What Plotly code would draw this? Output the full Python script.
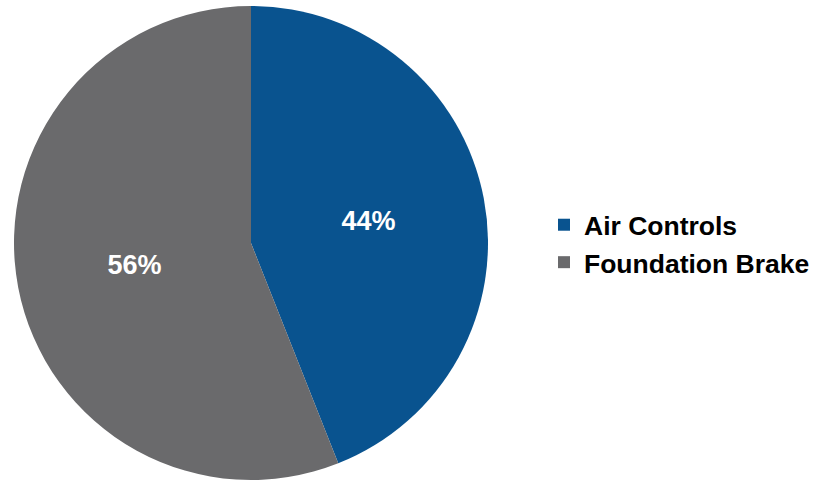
import plotly.graph_objects as go

labels = ["Air Controls", "Foundation Brake"]
values = [44, 56]
colors = ["#09538F", "#6A6A6C"]

W, H = 815, 482
cx, cy, R = 251, 243, 237

fig = go.Figure(go.Pie(
    labels=labels,
    values=values,
    marker=dict(colors=colors, line=dict(width=0)),
    sort=False,
    direction="clockwise",
    rotation=0,
    textinfo="percent",
    texttemplate="%{percent:.0%}",
    textposition="inside",
    insidetextorientation="horizontal",
    textfont=dict(family="Liberation Sans, Arial, sans-serif", size=27, color="white", weight="bold"),
    domain=dict(x=[(cx - R) / W, (cx + R) / W], y=[max(0, (H - cy - R) / H), min(1, (H - cy + R) / H)]),
    hoverinfo="label+percent",
))

fig.update_layout(
    width=W, height=H,
    margin=dict(l=0, r=0, t=0, b=0),
    paper_bgcolor="white",
    plot_bgcolor="white",
    showlegend=True,
    legend=dict(
        x=544 / W, xanchor="left",
        y=(H - 201) / H, yanchor="top",
        font=dict(family="Liberation Sans, Arial, sans-serif", size=26.5, color="black", weight="bold"),
        bgcolor="rgba(0,0,0,0)",
        traceorder="normal",
    ),
)

fig.write_html("out.html", config={"displayModeBar": False},
               post_script="document.body.style.margin='0';")
